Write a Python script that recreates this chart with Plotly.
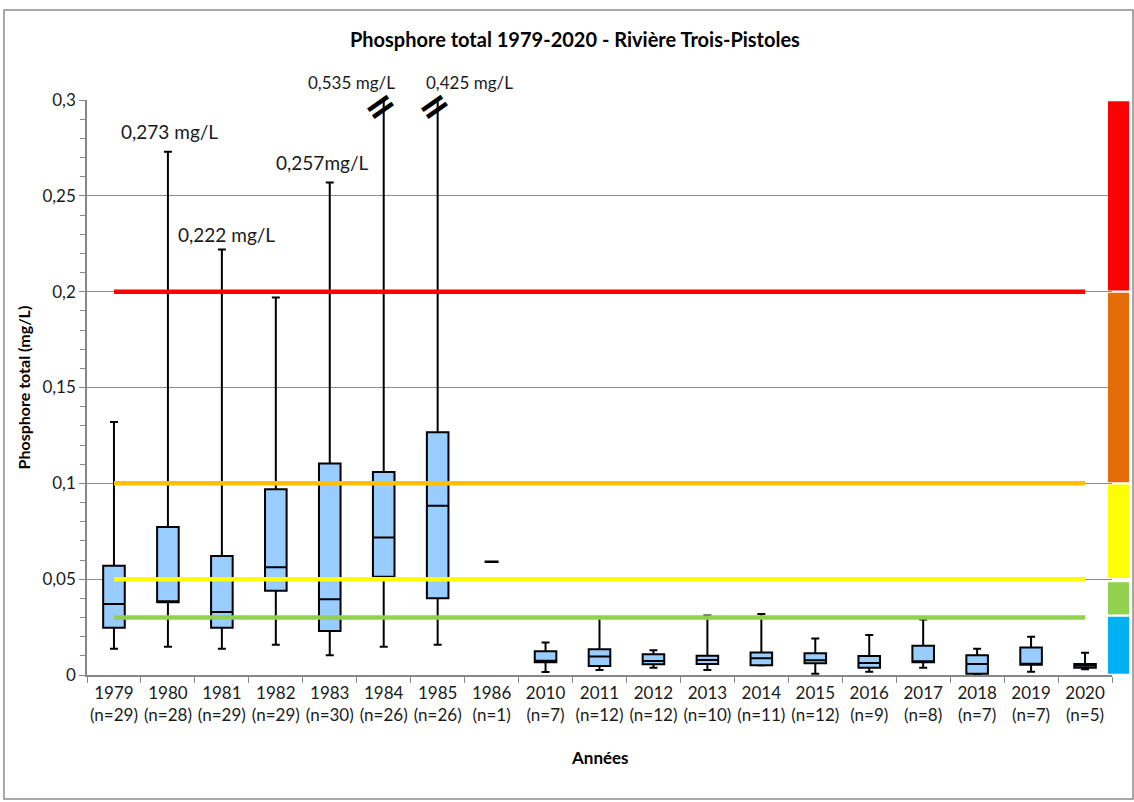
import plotly.graph_objects as go

# ---------------- data ----------------
years = ["1979", "1980", "1981", "1982", "1983", "1984", "1985", "1986", "2010", "2011",
         "2012", "2013", "2014", "2015", "2016", "2017", "2018", "2019", "2020"]
n_obs = [29, 28, 29, 29, 30, 26, 26, 1, 7, 12, 12, 10, 11, 12, 9, 8, 7, 7, 5]
minimum = [0.0137, 0.0148, 0.0137, 0.0158, 0.0103, 0.0148, 0.0158, 0.0591, 0.0016, 0.0026,
           0.0038, 0.0026, 0.0050, 0.0007, 0.0017, 0.0038, 0.0005, 0.0017, 0.0030]
q1 = [0.0247, 0.0379, 0.0247, 0.0440, 0.0230, 0.0513, 0.0400, 0.0591, 0.0066, 0.0047,
      0.0056, 0.0057, 0.0051, 0.0061, 0.0038, 0.0066, 0.0007, 0.0054, 0.0038]
median = [0.0370, 0.0379, 0.0329, 0.0562, 0.0395, 0.0718, 0.0883, 0.0591, 0.0075, 0.0096,
          0.0073, 0.0078, 0.0087, 0.0077, 0.0063, 0.0066, 0.0057, 0.0054, 0.0050]
q3 = [0.0570, 0.0772, 0.0621, 0.0969, 0.1104, 0.1059, 0.1266, 0.0591, 0.0124, 0.0134,
      0.0108, 0.0101, 0.0118, 0.0113, 0.0099, 0.0153, 0.0103, 0.0143, 0.0057]
maximum = [0.132, 0.273, 0.222, 0.197, 0.257, 0.535, 0.425, 0.0591, 0.0169, 0.030,
           0.0129, 0.0311, 0.0318, 0.019, 0.0209, 0.029, 0.0137, 0.020, 0.0116]

max_label_years = ["1980", "1981", "1983", "1984", "1985"]
max_label_texts = ["0,273 mg/L", "0,222 mg/L", "0,257mg/L", "0,535 mg/L", "0,425 mg/L"]
max_label_shift_x = [2, 5, -8, -32, 32]
max_label_shift_y = [20, 15, 20, 18, 18]
broken_years = ["1984", "1985"]

threshold_values = [0.03, 0.05, 0.1, 0.2]
threshold_colors = ["#92D050", "#FFFF00", "#FFC000", "#FF0000"]

band_low = [0.0, 0.031, 0.05, 0.1, 0.2]
band_high = [0.031, 0.049, 0.1, 0.2, 0.3]
band_colors = ["#00B0F0", "#92D050", "#FFFF00", "#E46C0A", "#FF0000"]

y_ticks = [0, 0.05, 0.1, 0.15, 0.2, 0.25, 0.3]

title_text = "Phosphore total 1979-2020 - Rivière Trois-Pistoles"
y_title = "Phosphore total (mg/L)"
x_title = "Années"

# ---------------- figure ----------------
FONT = "Lato, 'Open Sans', sans-serif"
cats = [f"{y}<br>(n={n})" for y, n in zip(years, n_obs)]
cat_of = dict(zip(years, cats))

box_idx = [i for i, n in enumerate(n_obs) if n > 1]
single_idx = [i for i, n in enumerate(n_obs) if n == 1]

fig = go.Figure()

fig.add_trace(go.Box(
    x=[cats[i] for i in box_idx],
    q1=[q1[i] for i in box_idx],
    median=[median[i] for i in box_idx],
    q3=[q3[i] for i in box_idx],
    lowerfence=[minimum[i] for i in box_idx],
    upperfence=[maximum[i] for i in box_idx],
    boxpoints=False,
    fillcolor="#99CCFF",
    line=dict(color="black", width=2),
    width=0.4,
    whiskerwidth=0.37,
    showlegend=False,
    hoverinfo="skip",
))

fig.add_trace(go.Scatter(
    x=[cats[i] for i in single_idx],
    y=[median[i] for i in single_idx],
    mode="markers",
    marker=dict(symbol="line-ew", size=10, line=dict(color="black", width=2.5)),
    showlegend=False,
    hoverinfo="skip",
))

for val, col in zip(threshold_values, threshold_colors):
    fig.add_trace(go.Scatter(
        x=[cats[0], cats[-1]], y=[val, val], mode="lines",
        line=dict(color=col, width=4.5), showlegend=False, hoverinfo="skip",
    ))

shapes = []
# side colour scale
for lo, hi, col in zip(band_low, band_high, band_colors):
    shapes.append(dict(type="rect", xref="paper", yref="y", x0=0.9961, x1=1.0166,
                       y0=lo + 0.0006, y1=hi - 0.0006, fillcolor=col, line=dict(width=0),
                       layer="above"))
# outer frame
shapes.append(dict(type="rect", xref="paper", yref="paper", x0=-0.081, x1=1.0205,
                   y0=-0.2157, y1=1.1565, line=dict(color="#8c8c8c", width=1.5),
                   fillcolor="rgba(0,0,0,0)", layer="below"))

annotations = []
for yr, txt, dx, dy in zip(max_label_years, max_label_texts, max_label_shift_x, max_label_shift_y):
    i = years.index(yr)
    yv = min(maximum[i], 0.3)
    annotations.append(dict(x=cat_of[yr], y=yv, text=txt, showarrow=False,
                            xshift=dx, yshift=dy, yanchor="middle", xanchor="center",
                            font=dict(family=FONT, size=19 if yv < 0.3 else 17, color="#1a1a1a")))
for yr in broken_years:
    annotations.append(dict(x=cat_of[yr], y=0.3, text="<b>=</b>", showarrow=False,
                            xshift=-4, yshift=-6, textangle=-35,
                            font=dict(family="DejaVu Sans", size=38, color="black")))
annotations.append(dict(x=-0.0615, y=0.5, xref="paper", yref="paper", text=f"<b>{y_title}</b>",
                        textangle=-90, showarrow=False, xanchor="center", yanchor="middle",
                        font=dict(family=FONT, size=16, color="black")))
annotations.append(dict(x=0.5, y=-0.1443, xref="paper", yref="paper", text=f"<b>{x_title}</b>",
                        showarrow=False, xanchor="center", yanchor="middle",
                        font=dict(family=FONT, size=17, color="black")))

fig.update_layout(
    width=1134, height=802,
    margin=dict(l=87, r=22, t=100, b=127),
    paper_bgcolor="white", plot_bgcolor="white",
    separators=", ",
    font=dict(family=FONT, size=16, color="#1a1a1a"),
    title=dict(text=f"<b>{title_text}</b>", x=0.507, xanchor="center", y=0.950, yanchor="middle",
               yref="container", font=dict(family=FONT, size=20, color="black")),
    shapes=shapes,
    annotations=annotations,
    xaxis=dict(type="category", categoryorder="array", categoryarray=cats,
               range=[-0.5, len(cats) - 0.5], autorange=False,
               tickson="boundaries", ticks="outside", ticklen=6, tickcolor="#868686",
               tickangle=0, ticklabelstandoff=2,
               showline=True, linecolor="#868686", linewidth=1.5, showgrid=False,
               tickfont=dict(family=FONT, size=17, color="#1a1a1a")),
    yaxis=dict(range=[0, 0.3], tickvals=y_ticks, ticks="outside", ticklen=6,
               tickcolor="#868686", showline=True, linecolor="#868686", linewidth=1.5,
               showgrid=True, gridcolor="#8c8c8c", gridwidth=1.2, zeroline=False,
               tickfont=dict(family=FONT, size=17, color="#1a1a1a"),
               minor=dict(dtick=0.01, ticks="outside", ticklen=5, tickcolor="#868686",
                          showgrid=False)),
)

fig.write_html("out.html", config={"displayModeBar": False},
               post_script="document.body.style.margin='0';document.body.style.overflow='hidden';")
